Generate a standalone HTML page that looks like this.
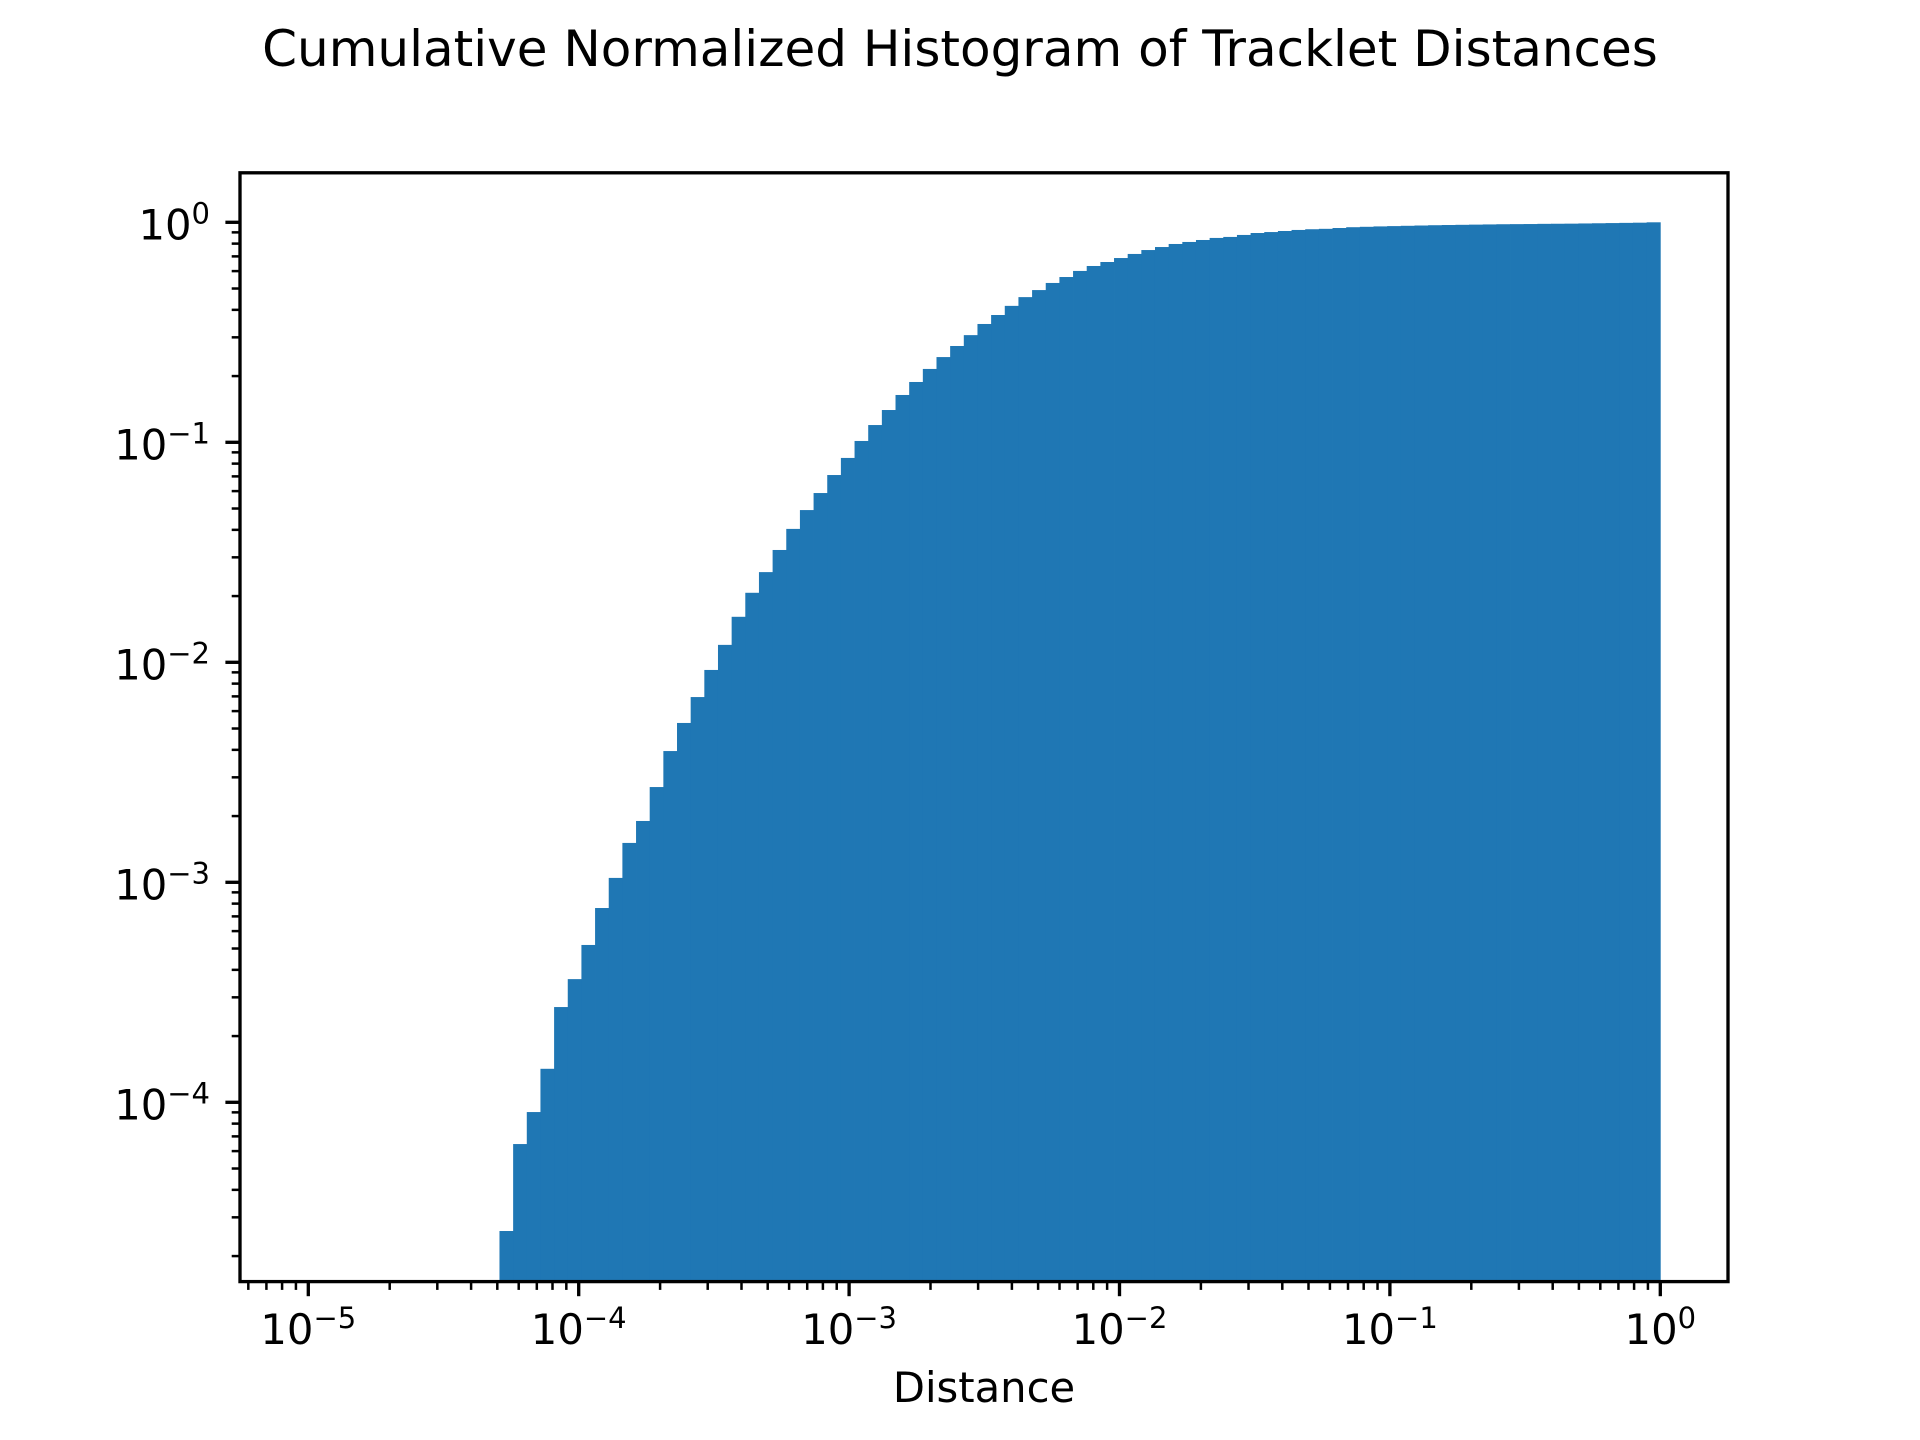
<!DOCTYPE html>
<html><head><meta charset="utf-8"><style>
html,body{margin:0;padding:0;background:#fff}
svg{display:block;font-family:"DejaVu Sans","Liberation Sans",sans-serif}
</style></head><body>
<svg id="chart" xmlns="http://www.w3.org/2000/svg" width="1920" height="1440" viewBox="0 0 1920 1440">
<rect x="0" y="0" width="1920" height="1440" fill="#fff"/>
<text x="960" y="66" font-size="50" text-anchor="middle" fill="#000">Cumulative Normalized Histogram of Tracklet Distances</text>
<g id="bars"></g>
<g id="ticks"></g>
<rect x="240" y="172.8" width="1488" height="1108.8" fill="none" stroke="#000" stroke-width="3.33"/>
<text x="984" y="1402" font-size="41.7" text-anchor="middle" fill="#000">Distance</text>
</svg>
<script>
const binStartLog = -4.293;
const binEndLog = 0;
const cumValues = [
2.60e-5,6.46e-5,9.03e-5,1.42e-4,2.71e-4,3.63e-4,5.19e-4,7.64e-4,1.047e-3,1.51e-3,
1.90e-3,2.71e-3,3.95e-3,5.30e-3,6.95e-3,9.23e-3,1.20e-2,1.61e-2,2.07e-2,2.57e-2,
3.24e-2,4.04e-2,4.92e-2,5.88e-2,7.10e-2,8.49e-2,0.1014,0.1198,0.1402,0.1641,
0.188,0.2155,0.244,0.274,0.307,0.345,0.379,0.417,0.457,0.492,
0.530,0.564,0.601,0.633,0.660,0.688,0.718,0.748,0.772,0.797,
0.814,0.831,0.849,0.858,0.876,0.894,0.903,0.913,0.923,0.930,
0.934,0.942,0.950,0.954,0.958,0.961,0.964,0.967,0.970,0.972,
0.974,0.976,0.978,0.980,0.981,0.982,0.984,0.985,0.986,0.988,
0.990,0.992,0.994,0.996,1.0];
const xMajorExps = [-5,-4,-3,-2,-1,0];
const yMajorExps = [0,-1,-2,-3,-4];
const xTickLabels = ["−5","−4","−3","−2","−1","0"];
const yTickLabels = ["0","−1","−2","−3","−4"];

const NS = "http://www.w3.org/2000/svg";
const L=240,R=1728,T=172.8,B=1281.6;
function xPos(lg){return 308.3+(lg+5)*270.4;}
function yPos(lg){return 222.3-lg*220;}
function mk(tag,attrs,parent){const e=document.createElementNS(NS,tag);for(const k in attrs)e.setAttribute(k,attrs[k]);parent.appendChild(e);return e;}

const barsG=document.getElementById('bars');
const n=cumValues.length;
const step=(binEndLog-binStartLog)/n;
for(let i=0;i<n;i++){
  const x0=xPos(binStartLog+i*step), x1=xPos(binStartLog+(i+1)*step);
  const yt=Math.max(T,yPos(Math.log10(cumValues[i])));
  const r=mk('rect',{x:x0,y:yt,width:(x1-x0)+0.4,height:Math.max(0,B-yt),fill:'#1f77b4'},barsG);
  
  
}

const tg=document.getElementById('ticks');
// x ticks
const xMin=-5.2526,xMax=0.250;
for(let d=-6;d<=0;d++){
  for(let k=1;k<10;k++){
    const lg=d+Math.log10(k);
    if(lg<xMin||lg>xMax)continue;
    const x=xPos(lg);
    const major=(k===1);
    const t=mk('line',{x1:x,x2:x,y1:B,y2:B+(major?14.6:8.3),stroke:'#000','stroke-width':major?3.33:2.5},tg);
    
    
  }
}
xMajorExps.forEach((e,i)=>{
  const t=mk('text',{x:xPos(e),y:1344,'font-size':41.7,'text-anchor':'middle',fill:'#000'},tg);
  
  
  t.appendChild(document.createTextNode('10'));
  const s=mk('tspan',{dy:-16,'font-size':29},t);
  s.textContent=xTickLabels[i];
});
// y ticks
const yMin=-4.812,yMax=0.225;
for(let d=-5;d<=0;d++){
  for(let k=1;k<10;k++){
    const lg=d+Math.log10(k);
    if(lg<yMin||lg>yMax)continue;
    const y=yPos(lg);
    const major=(k===1);
    const t=mk('line',{x1:L,x2:L-(major?14.6:8.3),y1:y,y2:y,stroke:'#000','stroke-width':major?3.33:2.5},tg);
    
    
  }
}
yMajorExps.forEach((e,i)=>{
  const t=mk('text',{x:210,y:yPos(e)+17,'font-size':41.7,'text-anchor':'end',fill:'#000'},tg);
  
  
  t.appendChild(document.createTextNode('10'));
  const s=mk('tspan',{dy:-16,'font-size':29},t);
  s.textContent=yTickLabels[i];
});
</script>
</body></html>
